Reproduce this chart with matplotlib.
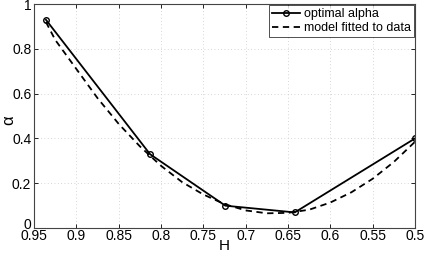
import numpy as np
import matplotlib.pyplot as plt
import matplotlib.transforms as mtransforms

# optimal alpha per H
H_opt = [0.936, 0.813, 0.724, 0.642, 0.5]
alpha_opt = [0.93, 0.33, 0.10, 0.07, 0.40]

# fitted model curve
H_fit = [0.936, 0.925, 0.9, 0.875, 0.85, 0.825, 0.8, 0.775, 0.75, 0.725, 0.7,
         0.675, 0.65, 0.625, 0.6, 0.575, 0.55, 0.525, 0.5]
alpha_fit = [0.92, 0.84, 0.71, 0.58, 0.465, 0.365, 0.278, 0.205, 0.15, 0.107, 0.079,
             0.066, 0.068, 0.082, 0.114, 0.16, 0.22, 0.295, 0.385]

xticks = [0.95, 0.9, 0.85, 0.8, 0.75, 0.7, 0.65, 0.6, 0.55, 0.5]
yticks = [0, 0.2, 0.4, 0.6, 0.8, 1]

plt.rcParams["font.family"] = "Liberation Sans"
fig = plt.figure(figsize=(4.26, 2.54), dpi=100)
ax = fig.add_axes([0.080, 0.102, 0.894, 0.882])

ax.plot(H_opt, alpha_opt, color="black", linewidth=1.3, marker="o",
        markersize=4, markerfacecolor="none", markeredgewidth=1.0,
        label="optimal alpha")
ax.plot(H_fit, alpha_fit, color="black", linewidth=1.3, linestyle=(0, (3.5, 2.5)),
        label="model fitted to data")

ax.set_xlim(0.95, 0.5)
ax.set_ylim(0, 1)
ax.set_xticks(xticks)
ax.set_xticklabels([f"{v:g}" for v in xticks])
ax.set_yticks(yticks)
ax.set_yticklabels([f"{v:g}" for v in yticks])
ax.tick_params(direction="in", top=True, right=True, labelsize=10, length=3,
               width=0.6)
ax.tick_params(axis="x", pad=1)
ax.tick_params(axis="y", pad=2)
ax.grid(True, linestyle=(0, (1, 3)), color="#c8c8c8", linewidth=0.6)
for s in ax.spines.values():
    s.set_linewidth(0.8)
    s.set_color("#444444")

# nudge the "0" label up so it sits just above "0.95"
zero = ax.get_yticklabels()[0]
zero.set_transform(zero.get_transform() +
                   mtransforms.ScaledTranslation(0, 5 / 100, fig.dpi_scale_trans))

ax.set_xlabel("H", fontsize=11)
ax.xaxis.set_label_coords(0.5, -0.048)
ax.set_ylabel("α", fontsize=12)
ax.yaxis.set_label_coords(-0.048, 0.48)

leg = ax.legend(loc="upper right", fontsize=9, frameon=True, fancybox=False,
                handlelength=2.2, handletextpad=0.3, borderpad=0.25,
                labelspacing=0.15, borderaxespad=0.1)
leg.get_frame().set_edgecolor("black")
leg.get_frame().set_linewidth(0.6)

fig.savefig("out.png", dpi=100)
